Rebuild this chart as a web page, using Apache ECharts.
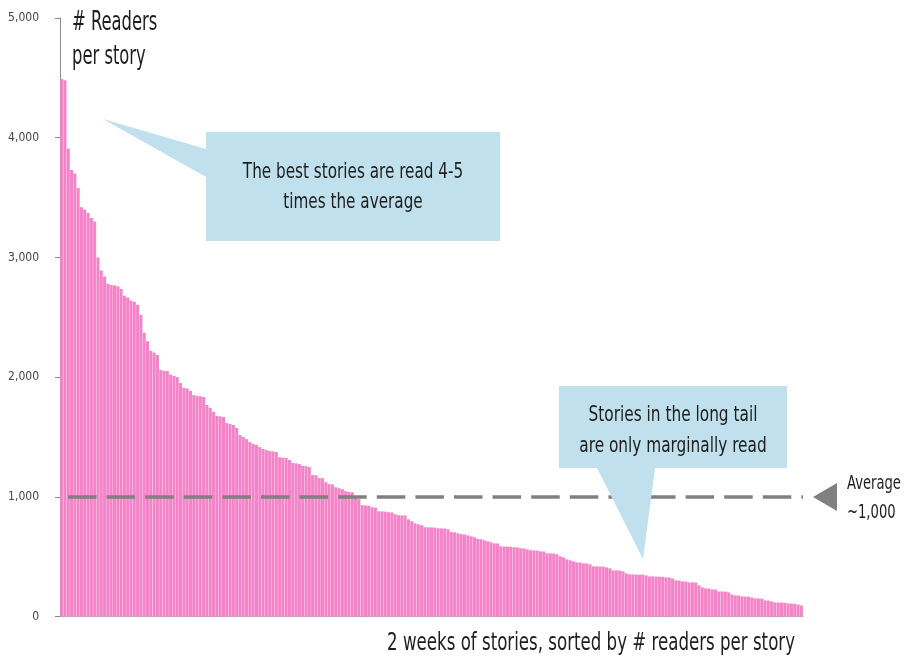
<!DOCTYPE html>
<html>
<head>
<meta charset="utf-8">
<script src="https://cdn.jsdelivr.net/npm/echarts@6/dist/echarts.min.js"></script>
<style>
  html, body { margin: 0; padding: 0; background: #ffffff; }
  #chart { width: 904px; height: 658px; }
</style>
</head>
<body>
<div id="chart"></div>
<script>
// Readers per story over two weeks, sorted from most to least read
const READERS = [
  4490, 4480, 3910, 3730, 3700, 3580, 3420, 3400, 3370, 3330,
  3300, 3000, 2890, 2840, 2780, 2770, 2765, 2760, 2735, 2680,
  2665, 2640, 2630, 2605, 2520, 2370, 2300, 2220, 2205, 2185,
  2060, 2052, 2050, 2020, 2010, 2000, 1950, 1910, 1905, 1885,
  1850, 1843, 1840, 1834, 1767, 1742, 1710, 1675, 1672, 1667,
  1616, 1608, 1600, 1575, 1516, 1500, 1482, 1457, 1441, 1432,
  1415, 1399, 1390, 1382, 1380, 1374, 1330, 1327, 1325, 1307,
  1283, 1280, 1273, 1258, 1256, 1248, 1181, 1180, 1158, 1155,
  1122, 1106, 1104, 1080, 1072, 1064, 1047, 1040, 1038, 997,
  980, 930, 928, 925, 913, 910, 879, 878, 876, 871,
  870, 854, 846, 845, 844, 812, 796, 779, 771, 762,
  746, 745, 744, 742, 737, 736, 735, 729, 705, 703,
  695, 688, 686, 678, 670, 662, 649, 645, 637, 628,
  620, 611, 610, 586, 585, 584, 583, 578, 577, 570,
  569, 561, 553, 552, 551, 544, 543, 528, 527, 526,
  519, 503, 494, 477, 469, 461, 452, 451, 444, 443,
  436, 419, 419, 418, 417, 410, 402, 385, 385, 384,
  377, 360, 352, 352, 351, 350, 350, 343, 335, 335,
  334, 333, 332, 327, 326, 318, 302, 301, 293, 292,
  285, 285, 284, 260, 243, 235, 234, 226, 225, 209,
  209, 208, 201, 184, 176, 175, 168, 167, 166, 159,
  151, 150, 149, 134, 133, 126, 117, 117, 116, 115,
  109, 108, 107, 100, 92
];

// Story rank (1 = most read)
const STORY_RANKS = READERS.map((_, i) => String(i + 1));

const Y_TICK_VALUES = [0, 1000, 2000, 3000, 4000, 5000];
const Y_TICK_LABELS = ['0', '1,000', '2,000', '3,000', '4,000', '5,000'];

const AVERAGE_READERS = 1000;

const FONT = '"DejaVu Sans Condensed", "Liberation Sans Narrow", "Liberation Sans", sans-serif';
const TEXT_COLOR = '#1e1e1e';
const CALLOUT_FILL = '#bfe0ec';

const chart = echarts.init(document.getElementById('chart'), null, { renderer: 'canvas' });

function label(text, x, y, size, align, sx) {
  return {
    type: 'text',
    x: x,
    y: y,
    scaleX: sx,
    z: 20,
    style: {
      text: text,
      font: size + 'px ' + FONT,
      fill: TEXT_COLOR,
      textAlign: align,
      textVerticalAlign: 'middle'
    }
  };
}

chart.setOption({
  animation: false,
  grid: { left: 60, right: 101, top: 18, bottom: 41.5, containLabel: false },
  xAxis: {
    type: 'category',
    data: STORY_RANKS,
    axisLine: { show: true, lineStyle: { color: '#b0b0b0', width: 1 } },
    axisTick: { show: false },
    axisLabel: { show: false },
    splitLine: { show: false }
  },
  yAxis: {
    type: 'value',
    min: 0,
    max: 5000,
    interval: 1000,
    axisLine: { show: true, lineStyle: { color: '#8c8c8c', width: 1 } },
    axisTick: { show: true, length: 5, lineStyle: { color: '#8c8c8c' } },
    splitLine: { show: false },
    axisLabel: {
      margin: 21,
      color: '#444444',
      fontFamily: FONT,
      fontSize: 12,
      formatter: function (v) {
        const k = Y_TICK_VALUES.indexOf(v);
        return k >= 0 ? Y_TICK_LABELS[k] : '';
      }
    }
  },
  series: [{
    type: 'bar',
    data: READERS,
    barCategoryGap: '8%',
    itemStyle: { color: '#f484c7' },
    markLine: {
      silent: true,
      symbol: ['none', 'none'],
      label: { show: false },
      lineStyle: {
        color: '#808080',
        width: 3.5,
        type: [28.5, 10.1],
        dashOffset: 30.6
      },
      data: [{ yAxis: AVERAGE_READERS }]
    },
    z: 2
  }],
  graphic: [
    // Callout: best stories
    {
      type: 'polygon',
      z: 10,
      shape: { points: [[206, 132], [500, 132], [500, 241], [206, 241], [206, 177], [103, 119], [206, 149]] },
      style: { fill: CALLOUT_FILL }
    },
    // Callout: long tail
    {
      type: 'polygon',
      z: 10,
      shape: { points: [[559, 386], [787, 386], [787, 468], [655, 468], [643, 559], [597, 468], [559, 468]] },
      style: { fill: CALLOUT_FILL }
    },
    // Arrow pointing at the average line
    {
      type: 'polygon',
      z: 10,
      shape: { points: [[813, 497], [837, 483], [837, 511]] },
      style: { fill: '#808080' }
    },
    label('# Readers', 72, 23, 26, 'left', 0.70),
    label('per story', 72, 57, 26, 'left', 0.70),
    label('The best stories are read 4-5', 353, 172, 22, 'center', 0.77),
    label('times the average', 353, 202, 22, 'center', 0.77),
    label('Stories in the long tail', 673, 415, 22, 'center', 0.775),
    label('are only marginally read', 673, 446, 22, 'center', 0.775),
    label('Average', 847, 484, 20, 'left', 0.73),
    label('~1,000', 847, 513, 20, 'left', 0.73),
    label('2 weeks of stories, sorted by # readers per story', 795, 643, 25, 'right', 0.74)
  ]
});
</script>
</body>
</html>
